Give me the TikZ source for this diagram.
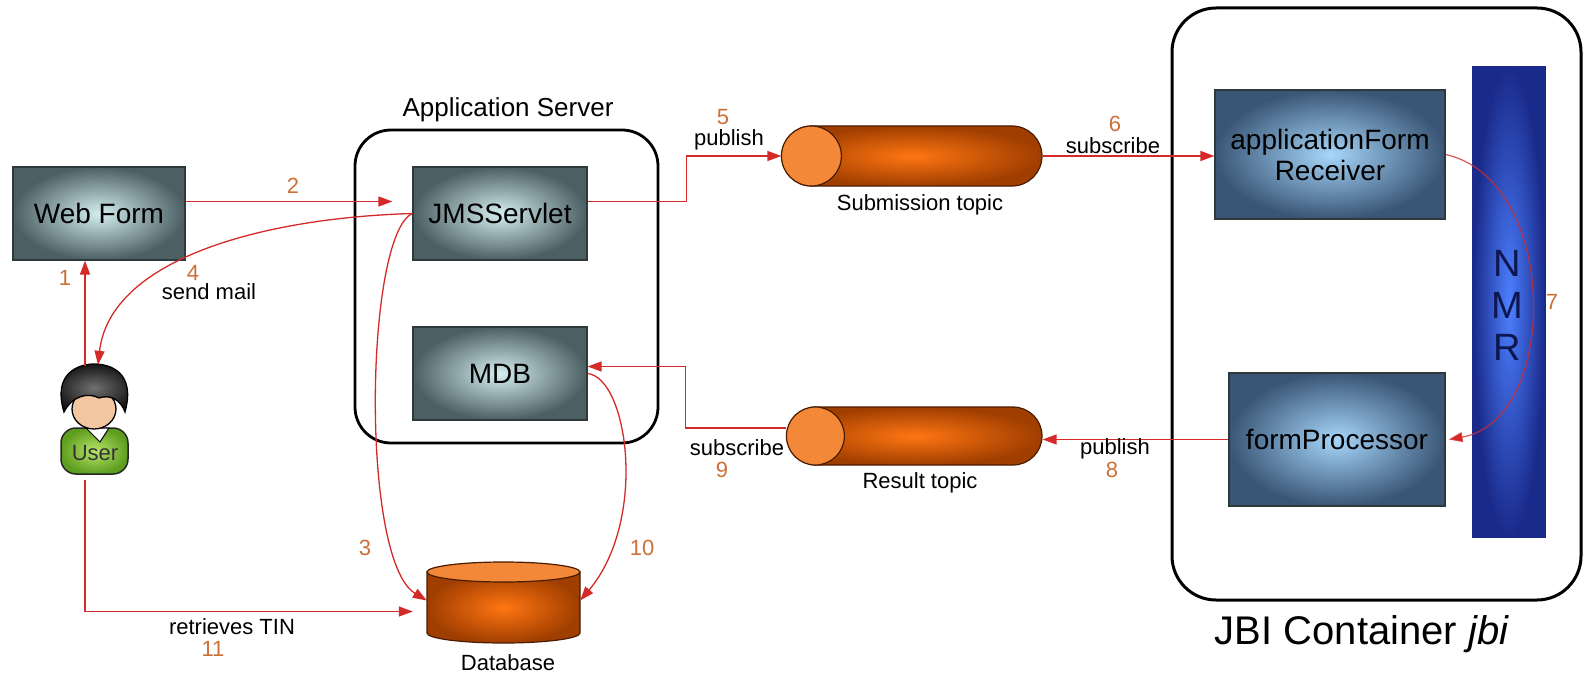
\documentclass[tikz,border=0pt]{standalone}
\usepackage{fontspec}
\setmainfont{Liberation Sans}
\usetikzlibrary{arrows.meta,shapes.misc}

\definecolor{flowred}{HTML}{D42A2A}
\definecolor{numcol}{HTML}{CC7038}
\definecolor{boxedge}{HTML}{2C3A3C}
\definecolor{grayin}{HTML}{D4EEF0}
\definecolor{grayout}{HTML}{4C6064}
\definecolor{bluein}{HTML}{A6D6FA}
\definecolor{blueout}{HTML}{3A5676}
\definecolor{nmrin}{HTML}{4C80FF}
\definecolor{nmrout}{HTML}{1A2A8A}
\definecolor{nmrtext}{HTML}{0E1650}
\definecolor{topicin}{HTML}{FF7612}
\definecolor{topicout}{HTML}{A03E00}
\definecolor{topiccap}{HTML}{F28838}
\definecolor{topicedge}{HTML}{4A1C00}
\definecolor{hairin}{HTML}{707070}
\definecolor{hairout}{HTML}{151515}
\definecolor{skin}{HTML}{F2C6A0}
\definecolor{shirtin}{HTML}{B8E46C}
\definecolor{shirtout}{HTML}{5E9E1E}

\tikzset{
  comp/.style={rectangle, draw=boxedge, line width=1.2pt, inner color=grayin,
    outer color=grayout, font=\fontsize{28}{31}\selectfont, align=center, inner sep=0pt},
  jbicomp/.style={comp, inner color=bluein, outer color=blueout},
  frame/.style={rectangle, draw=black, line width=2.8pt, rounded corners=36pt},
  topic/.style={rounded rectangle, draw=topicedge, line width=1.2pt, inner color=topicin,
    outer color=topicout, inner sep=0pt},
  topicend/.style={circle, draw=topicedge, line width=1.2pt, fill=topiccap, inner sep=0pt},
  flow/.style={draw=flowred, line width=1.3pt, -{Triangle[length=14pt,width=10pt]}},
  lbl/.style={font=\fontsize{22}{24}\selectfont, inner sep=0pt},
  num/.style={lbl, text=numcol}
}

\begin{document}
\begin{tikzpicture}[x=1pt, y=-1pt]
  \useasboundingbox (0,0) rectangle (1585,674);

  % containers
  \node[frame, minimum width=303pt, minimum height=313pt] (appsrv) at (506.5,286.5) {};
  \node[lbl, font=\fontsize{26}{28}\selectfont] (appsrvlbl) at (508,110) {Application Server};
  \node[frame, rounded corners=44pt, line width=3pt, minimum width=409pt, minimum height=592pt] (jbi) at (1376.5,304) {};
  \node[lbl, font=\fontsize{40}{44}\selectfont] (jbilbl) at (1362,634) {JBI Container \textit{jbi}};

  % components
  \node[comp, minimum width=172pt, minimum height=93pt] (webform) at (99,213.5) {Web Form};
  \node[comp, minimum width=174pt, minimum height=93pt] (jms) at (500,213.5) {JMSServlet};
  \node[comp, minimum width=174pt, minimum height=93pt] (mdb) at (500,373.5) {MDB};
  \node[jbicomp, minimum width=230pt, minimum height=129pt] (afr) at (1330,154.5) {applicationForm\\Receiver};
  \node[jbicomp, minimum width=216pt, minimum height=133pt] (fp) at (1337,439.5) {formProcessor};
  \node[rectangle, draw=nmrout, line width=1.2pt, inner color=nmrin, outer color=nmrout,
    minimum width=72pt, minimum height=470pt] (nmr) at (1509,302) {};
  \node[font=\fontsize{38}{42}\selectfont, text=nmrtext, align=center, inner sep=0pt] (nmrlbl) at (1507,305) {N\\M\\R};

  % topics
  \node[topic, minimum width=260pt, minimum height=60pt] (sub) at (912,156) {};
  \node[topicend, minimum size=60pt] (subend) at ([xshift=30pt]sub.west) {};
  \node[lbl] (sublbl) at (920,205) {Submission topic};
  \node[topic, minimum width=255pt, minimum height=58pt] (res) at (914.5,436) {};
  \node[topicend, minimum size=58pt] (resend) at ([xshift=29pt]res.west) {};
  \node[lbl] (reslbl) at (920,483) {Result topic};

  % database
  \node[minimum width=153pt, minimum height=81pt, inner sep=0pt] (db) at (503.5,602.5) {};
  \draw[topicedge, line width=1.2pt, inner color=topicin, outer color=topicout]
    (427,572) -- (427,633) arc[start angle=180, end angle=0, x radius=76.5, y radius=10]
    -- (580,572) -- cycle;
  \draw[topicedge, line width=1.2pt, fill=topiccap] (503.5,572) ellipse [x radius=76.5, y radius=10];
  \node[lbl] (dblbl) at (508,663) {Database};

  % user
  \node[minimum width=68pt, minimum height=110pt, inner sep=0pt] (user) at (94,420) {};
  \draw[black!85, line width=1.5pt, inner color=shirtin, outer color=shirtout, rounded corners=15pt]
    (61,474) -- (61,428) -- (128,428) -- (128,474) -- cycle;
  \draw[black, line width=1pt, fill=white] (86,428) -- (100,442) -- (109,428) -- cycle;
  \draw[black, line width=1.3pt, fill=skin] (94,409) ellipse [x radius=22, y radius=20];
  \draw[black, line width=1.3pt, inner color=hairin, outer color=hairout]
    (64,412) .. controls (52,372) and (80,364) .. (94,364)
    .. controls (110,364) and (136,372) .. (125,412)
    .. controls (121,400) and (110,394) .. (99,398)
    .. controls (88,392) and (72,396) .. (64,412) -- cycle;
  \node[lbl, text=black!80] (userlbl) at (95,453) {User};
  \coordinate (utop) at (85,366);
  \coordinate (ubot) at (85,480);

  % message flow
  \draw[flow] (utop) -- (utop |- webform.south);
  \draw[flow] ([yshift=12pt]webform.east) -- ([yshift=12pt,xshift=-20pt]jms.west);
  \draw[flow] (jms.west) .. controls (365,235) and (360,560) .. ([yshift=2pt]db.west);
  \draw[flow] (jms.west) .. controls (260,218) and (110,260) .. ([xshift=4pt]user.north);
  \draw[flow] ([yshift=12pt]jms.east) -- ++(99,0) |- (sub.west);
  \draw[flow] (sub.east) -- (sub.east -| afr.west);
  \draw[flow, draw opacity=0.75] (afr.east) .. controls (1560,180) and (1560,420) .. ([xshift=3pt]fp.east);
  \draw[flow] (fp.west) -- (fp.west -| res.east);
  \draw[flow] ([yshift=8pt]res.west) -- ++(-101,0) |- ([yshift=7pt]mdb.east);
  \draw[flow] (mdb.east) .. controls (628,378) and (648,520) .. ([yshift=2pt]db.east);
  \draw[flow] (ubot) |- ([yshift=-9pt,xshift=-14pt]db.west);

  % step numbers and captions
  \node[num] (n1) at (65,278) {1};
  \node[num] (n2) at (293,186) {2};
  \node[num] (n3) at (365,548) {3};
  \node[num] (n4) at (193,273) {4};
  \node[lbl] (sendmail) at (209,292) {send mail};
  \node[num] (n5) at (723,117) {5};
  \node[lbl] (pub5) at (729,140) {publish};
  \node[num] (n6) at (1115,124) {6};
  \node[lbl] (sub6) at (1113,146) {subscribe};
  \node[num] (n7) at (1552,302) {7};
  \node[lbl] (pub8) at (1115,449) {publish};
  \node[num] (n8) at (1112,470) {8};
  \node[lbl] (sub9) at (737,448) {subscribe};
  \node[num] (n9) at (722,470) {9};
  \node[num] (n10) at (642,548) {10};
  \node[lbl] (tin) at (232,627) {retrieves TIN};
  \node[num] (n11) at (213,649) {11};
\end{tikzpicture}
\end{document}
